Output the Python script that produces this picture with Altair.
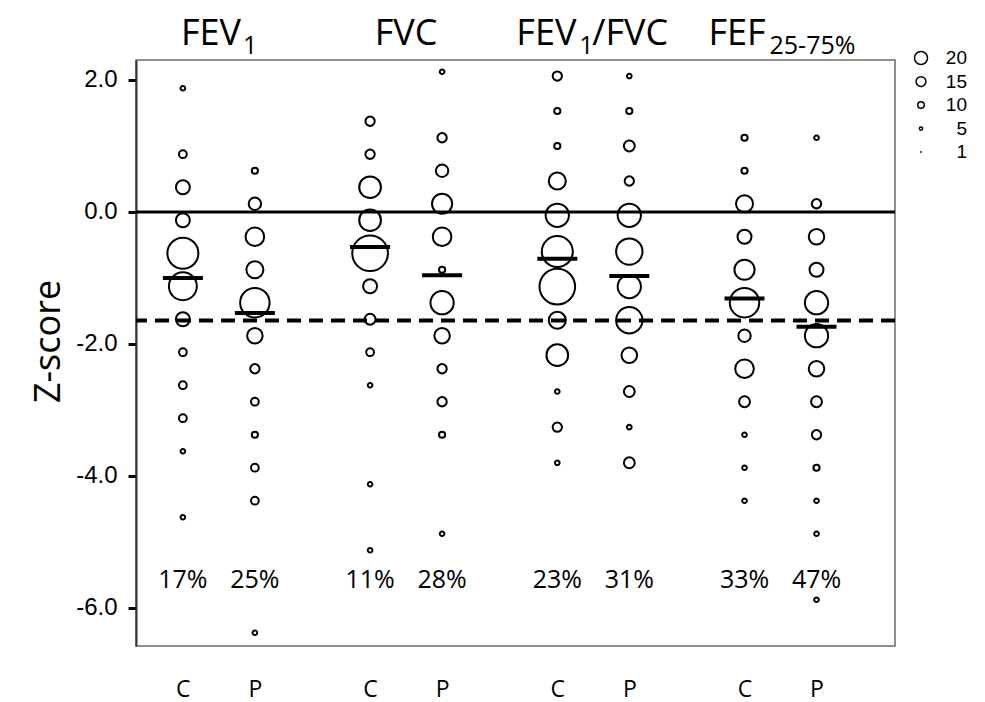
import altair as alt
import pandas as pd

# ---------------- data ----------------
metrics = ["FEV1", "FVC", "FEV1/FVC", "FEF25-75%"]
groups = ["C", "P"]

fev1_c_z = [1.875, 0.875, 0.375, -0.125, -0.625, -1.125, -1.625, -2.125, -2.625, -3.125, -3.625, -4.625]
fev1_c_n = [3, 5, 9, 9, 20, 18, 9, 5, 5, 5, 3, 3]
fev1_p_z = [0.625, 0.125, -0.375, -0.875, -1.375, -1.875, -2.375, -2.875, -3.375, -3.875, -4.375, -6.375]
fev1_p_n = [4, 8, 12, 11, 19, 10, 6, 5, 4, 5, 5, 3]

fvc_c_z = [1.375, 0.875, 0.375, -0.125, -0.625, -1.125, -1.625, -2.125, -2.625, -4.125, -5.125]
fvc_c_n = [6, 6, 14, 14, 23, 9, 7, 5, 3, 3, 3]
fvc_p_z = [2.125, 1.125, 0.625, 0.125, -0.375, -0.875, -1.375, -1.875, -2.375, -2.875, -3.375, -4.875]
fvc_p_n = [3, 6, 8, 13, 12, 4, 15, 10, 6, 6, 4, 3]

ratio_c_z = [2.06, 1.53, 1.0, 0.47, -0.05, -0.6, -1.13, -1.64, -2.17, -2.72, -3.26, -3.8]
ratio_c_n = [6, 4, 4, 11, 15, 20, 23, 11, 14, 3, 6, 3]
ratio_p_z = [2.06, 1.53, 1.0, 0.47, -0.05, -0.6, -1.13, -1.64, -2.17, -2.72, -3.26, -3.8]
ratio_p_n = [3, 4, 7, 6, 15, 17, 15, 17, 10, 7, 3, 7]

fef_c_z = [1.125, 0.625, 0.125, -0.375, -0.875, -1.375, -1.875, -2.375, -2.875, -3.375, -3.875, -4.375]
fef_c_n = [4, 4, 11, 9, 13, 19, 8, 12, 7, 3, 3, 3]
fef_p_z = [1.125, 0.125, -0.375, -0.875, -1.375, -1.875, -2.375, -2.875, -3.375, -3.875, -4.375, -4.875, -5.875]
fef_p_n = [3, 6, 10, 9, 15, 15, 10, 7, 6, 4, 3, 3, 3]

means = [-1.0, -1.53, -0.53, -0.96, -0.71, -0.97, -1.31, -1.74]
pct = [17, 25, 11, 28, 23, 31, 33, 47]
legend_values = [20, 15, 10, 5, 1]
ref_lines = [0.0, -1.645]
y_ticks = [2, 0, -2, -4, -6]

series = [
    (fev1_c_z, fev1_c_n), (fev1_p_z, fev1_p_n),
    (fvc_c_z, fvc_c_n), (fvc_p_z, fvc_p_n),
    (ratio_c_z, ratio_c_n), (ratio_p_z, ratio_p_n),
    (fef_c_z, fef_c_n), (fef_p_z, fef_p_n),
]

# ---------------- tables ----------------
GAP = 2.6
slots = []
for mi, m in enumerate(metrics):
    for gi, g in enumerate(groups):
        slots.append(round(mi * GAP + gi, 3))
centers = [round(mi * GAP + 0.5, 3) for mi in range(len(metrics))]

pt_rows = []
for s, (zs, ns) in zip(slots, series):
    for z, n in zip(zs, ns):
        pt_rows.append({"slot": s, "z": z, "n": n})
df_pts = pd.DataFrame(pt_rows)
df_means = pd.DataFrame({"slot": slots, "z": means})
df_pct = pd.DataFrame({"slot": slots, "lab": [f"{p}%" for p in pct]})

W, H = 759, 586
xscale = alt.Scale(domain=[-0.651, 9.89], nice=False, zero=False)
yscale = alt.Scale(domain=[-6.576, 2.303], nice=False, zero=False)

x_enc = alt.X(
    "slot:Q", scale=xscale,
    axis=alt.Axis(values=slots, title=None, ticks=False, tickSize=0, domain=False, grid=False,
                  labelExpr="round(datum.value*10) % 26 == 0 ? 'C' : 'P'",
                  labelFont="Open Sans", labelFontSize=23, labelColor="black", labelPadding=32),
)
y_enc = alt.Y(
    "z:Q", scale=yscale,
    axis=alt.Axis(values=y_ticks, grid=False, title="Z-score",
                  labelExpr="datum.value < 0 ? '-' + format(-datum.value, '.1f') : format(datum.value, '.1f')",
                  labelFont="Liberation Sans", labelFontSize=24, labelColor="black", labelPadding=11,
                  tickSize=8, tickWidth=3, tickColor="black", domainColor="#333333", domainWidth=2,
                  titleFont="Open Sans", titleFontSize=36, titleFontWeight="normal", titleColor="black",
                  titlePadding=8, titleY=281),
)

rule_solid = alt.Chart(pd.DataFrame({"z": [ref_lines[0]]})).mark_rule(
    color="black", strokeWidth=3).encode(y=y_enc)
rule_dash = alt.Chart(pd.DataFrame({"z": [ref_lines[1]]})).mark_rule(
    color="black", strokeWidth=4, strokeDash=[14, 8]).encode(y=y_enc)

pts = alt.Chart(df_pts).mark_point(
    shape="circle", filled=False, color="black", strokeWidth=2, opacity=1
).encode(
    x=x_enc, y=y_enc,
    size=alt.Size("n:Q", scale=alt.Scale(type="pow", exponent=2, domain=[0, 20], range=[0, 961]), legend=None),
)

mean_ticks = alt.Chart(df_means).mark_tick(
    orient="horizontal", size=40, thickness=4, color="black", opacity=1
).encode(x=x_enc, y=y_enc)

pct_text = alt.Chart(df_pct).mark_text(
    font="Open Sans", fontSize=25, color="black", baseline="middle"
).encode(x=x_enc, y=alt.value(520), text="lab:N")


def piece(center, txt, dx, size, ybase, align="left"):
    return alt.Chart(pd.DataFrame({"slot": [center], "t": [txt]})).mark_text(
        font="Open Sans", fontSize=size, color="black", align=align, baseline="alphabetic", dx=dx
    ).encode(x=x_enc, y=alt.value(ybase), text="t:N")


MAIN, SUB = 36, 25
YB, YS = -15, -6
titles = [
    piece(centers[0], "FEV", -38, MAIN, YB), piece(centers[0], "1", 24, SUB, YS),
    piece(centers[1], "FVC", 0, MAIN, YB, align="center"),
    piece(centers[2], "FEV", -77, MAIN, YB), piece(centers[2], "1", -14, SUB, YS),
    piece(centers[2], "/FVC", -1, MAIN, YB),
    piece(centers[3], "FEF", -72, MAIN, YB), piece(centers[3], "25-75%", -11, SUB, YS),
]

main = alt.layer(rule_solid, rule_dash, pts, mean_ticks, pct_text, *titles)

# ---------------- size key ----------------
leg_df = pd.DataFrame({"lv": legend_values, "lab": [str(v) for v in legend_values]})
leg_y = alt.Y("lv:O", scale=alt.Scale(domain=legend_values, range=[-2, 92], padding=0), axis=None)
leg_pts = alt.Chart(leg_df).mark_point(
    shape="circle", filled=False, color="black", strokeWidth=1.5, opacity=1
).encode(
    x=alt.value(785), y=leg_y,
    size=alt.Size("lv:Q", scale=alt.Scale(type="pow", exponent=2, domain=[0, 20], range=[0, 169]), legend=None),
)
leg_txt = alt.Chart(leg_df).mark_text(
    align="right", baseline="middle", font="Liberation Sans", fontSize=19, color="black"
).encode(x=alt.value(831), y=leg_y, text="lab:N")
legend = alt.layer(leg_pts, leg_txt)

chart = alt.layer(main, legend).resolve_scale(
    y="independent", size="independent"
).properties(
    width=W, height=H,
    autosize=alt.AutoSizeParams(type="none"),
    padding={"left": 128, "top": 52, "right": 80, "bottom": 62},
).configure_view(stroke="#6b6b6b", strokeWidth=1.5)

chart.save("out.html", embed_options={"renderer": "svg", "actions": False})
